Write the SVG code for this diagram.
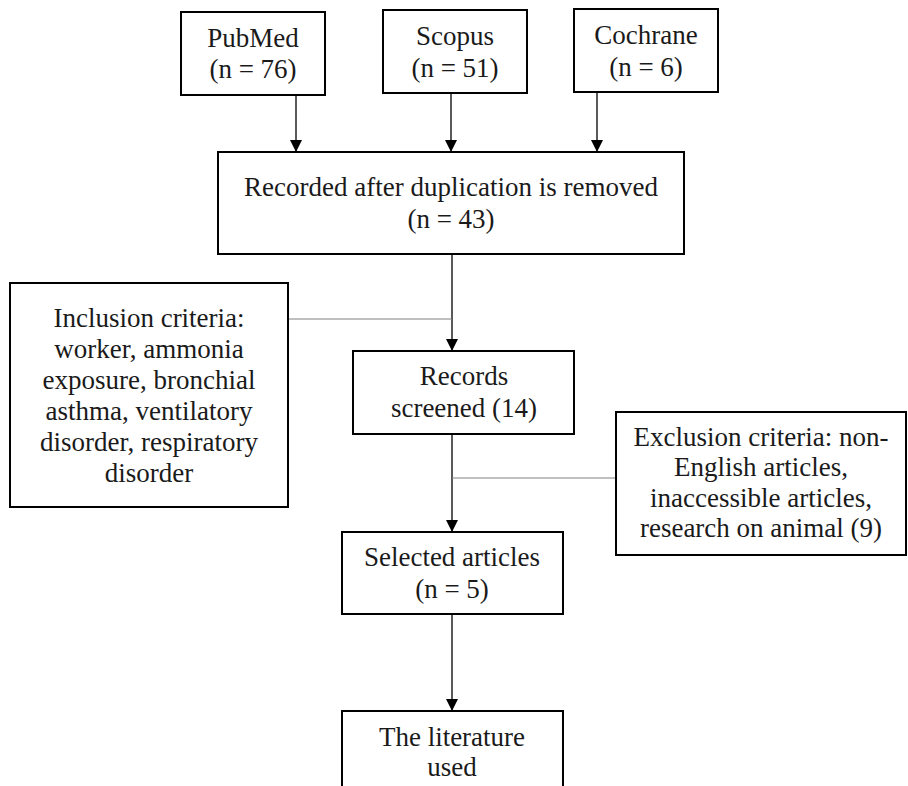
<svg xmlns="http://www.w3.org/2000/svg" width="908" height="786" viewBox="0 0 908 786">
<style>
.box{fill:#fff;stroke:#000;stroke-width:2}
text{font-family:"Liberation Serif","Times New Roman",serif;font-size:27px;fill:#1a1a1a;text-anchor:middle}
.arr{stroke:#000;stroke-width:1.3;fill:none;marker-end:url(#ah)}
.gray{stroke:#808080;stroke-width:1.2;fill:none}
</style>
<defs>
<marker id="ah" viewBox="0 0 12 12" refX="12" refY="6" markerWidth="12" markerHeight="12" markerUnits="userSpaceOnUse" orient="auto">
<path d="M0,0 L12,6 L0,12 Z" fill="#000"/>
</marker>
</defs>
<rect width="908" height="786" fill="#fff"/>
<g id="connectors">
<line class="arr" x1="296" y1="95" x2="296" y2="152"/>
<line class="arr" x1="451" y1="93" x2="451" y2="152"/>
<line class="arr" x1="597" y1="92" x2="597" y2="152"/>
<line class="arr" x1="452" y1="254" x2="452" y2="351"/>
<line class="gray" x1="288" y1="319" x2="452" y2="319"/>
<line class="arr" x1="452" y1="434" x2="452" y2="532"/>
<line class="gray" x1="452" y1="478" x2="616" y2="478"/>
<line class="arr" x1="452" y1="614" x2="452" y2="711"/>
</g>
<g id="pubmed">
<rect class="box" x="181" y="12" width="144" height="83"/>
<text x="253" y="47">PubMed</text>
<text x="253" y="78">(n = 76)</text>
</g>
<g id="scopus">
<rect class="box" x="383" y="10" width="144" height="83"/>
<text x="455" y="45">Scopus</text>
<text x="455" y="77">(n = 51)</text>
</g>
<g id="cochrane">
<rect class="box" x="574" y="9" width="144" height="83"/>
<text x="646" y="44">Cochrane</text>
<text x="646" y="76">(n = 6)</text>
</g>
<g id="recorded">
<rect class="box" x="218" y="152" width="466" height="102"/>
<text x="451" y="196">Recorded after duplication is removed</text>
<text x="451" y="228">(n = 43)</text>
</g>
<g id="inclusion">
<rect class="box" x="10" y="283" width="278" height="224"/>
<text x="149" y="327">Inclusion criteria:</text>
<text x="149" y="358">worker, ammonia</text>
<text x="149" y="389">exposure, bronchial</text>
<text x="149" y="420">asthma, ventilatory</text>
<text x="149" y="451">disorder, respiratory</text>
<text x="149" y="482">disorder</text>
</g>
<g id="screened">
<rect class="box" x="353" y="351" width="221" height="83"/>
<text x="464" y="385">Records</text>
<text x="464" y="417">screened (14)</text>
</g>
<g id="exclusion">
<rect class="box" x="616" y="412" width="290" height="143"/>
<text x="761" y="446">Exclusion criteria: non-</text>
<text x="761" y="476">English articles,</text>
<text x="761" y="507">inaccessible articles,</text>
<text x="761" y="537">research on animal (9)</text>
</g>
<g id="selected">
<rect class="box" x="342" y="532" width="221" height="82"/>
<text x="452" y="566">Selected articles</text>
<text x="452" y="598">(n = 5)</text>
</g>
<g id="literature">
<rect class="box" x="342" y="711" width="221" height="90"/>
<text x="452" y="746">The literature</text>
<text x="452" y="776">used</text>
</g>
</svg>
